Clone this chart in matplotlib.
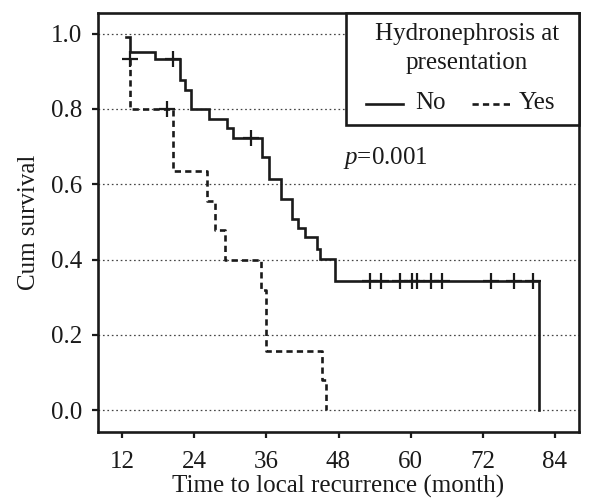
import matplotlib
matplotlib.use("Agg")
import matplotlib.pyplot as plt
from matplotlib.patches import Rectangle

plt.rcParams['font.family'] = ['Liberation Serif', 'DejaVu Serif']
plt.rcParams['lines.scale_dashes'] = False
plt.rcParams['mathtext.fontset'] = 'custom'
plt.rcParams['mathtext.rm'] = 'Liberation Serif'
plt.rcParams['mathtext.it'] = 'Liberation Serif:italic'

# "No" hydronephrosis group: step times (months) and survival after each step
no_times = [12.6, 13.4, 17.4, 21.6, 22.5, 23.4, 26.4, 29.4, 30.4, 35.3, 36.4,
            38.4, 40.2, 41.3, 42.5, 44.4, 45.0, 47.4, 81.4]
no_surv = [0.99, 0.952, 0.932, 0.877, 0.850, 0.800, 0.774, 0.749, 0.723, 0.672,
           0.614, 0.561, 0.508, 0.485, 0.459, 0.428, 0.401, 0.344, 0.0]
no_cens_t = [20.5, 33.4, 53.3, 55.1, 58.2, 60.2, 61.1, 63.4, 65.2, 73.3, 77.2, 80.3]
no_cens_s = [0.932, 0.723, 0.344, 0.344, 0.344, 0.344, 0.344, 0.344, 0.344,
             0.344, 0.344, 0.344]

# "Yes" hydronephrosis group
yes_times = [13.4, 13.4, 20.4, 26.2, 27.4, 29.2, 35.1, 36.0, 45.2, 46.0]
yes_surv = [0.934, 0.800, 0.635, 0.556, 0.479, 0.399, 0.319, 0.158, 0.080, 0.0]
yes_cens_t = [13.4, 19.4]
yes_cens_s = [0.934, 0.800]

x_ticks = [12, 24, 36, 48, 60, 72, 84]
y_ticks = [0.0, 0.2, 0.4, 0.6, 0.8, 1.0]

FS = 18
INK = '#1a1a1a'

fig = plt.figure(figsize=(5.9, 4.99), dpi=100)
ax = fig.add_axes([98/590, 67/499, (579-98)/590, (432-13)/499])

for y in y_ticks:
    ax.axhline(y, color='#444444', lw=0.9, ls=(0, (1.2, 2.0)), zorder=1)

def steps(times, surv):
    xs = [times[0]]
    ys = [surv[0]]
    for t, s in zip(times[1:], surv[1:]):
        xs += [t, t]
        ys += [ys[-1], s]
    return xs, ys

xs, ys = steps(no_times, no_surv)
ax.plot(xs, ys, color=INK, lw=1.9, solid_joinstyle='miter', zorder=3)
xs, ys = steps(yes_times, yes_surv)
ax.plot(xs, ys, color=INK, lw=1.9, dashes=(4.5, 3.0), zorder=3)

ax.plot(no_cens_t, no_cens_s, ls='none', marker='+', ms=11, mew=1.6,
        color=INK, zorder=4)
ax.plot(yes_cens_t, yes_cens_s, ls='none', marker='+', ms=11, mew=1.6,
        color=INK, zorder=4)

ax.set_xlim(8, 88)
ax.set_ylim(-0.058, 1.055)
ax.set_xticks(x_ticks)
ax.set_xticklabels([str(v) for v in x_ticks])
ax.set_yticks(y_ticks)
ax.set_yticklabels([f"{v:.1f}" for v in y_ticks])
ax.tick_params(axis='both', direction='out', length=4.5, width=1.6,
               labelsize=FS, color=INK, labelcolor=INK)
ax.tick_params(axis='x', pad=9)
ax.tick_params(axis='y', pad=7)
for sp in ax.spines.values():
    sp.set_linewidth(1.9)
    sp.set_color(INK)

ax.set_xlabel('Time to local recurrence (month)', fontsize=FS, color=INK,
              labelpad=1.5)
ax.set_ylabel('Cum survival', fontsize=FS, color=INK, labelpad=8)

ax.text(55.8, 0.67, r'$\mathit{p}$=0.001', fontsize=FS, ha='center',
        va='center', color=INK)

# legend box (axes fraction coordinates)
T = ax.transAxes
def fx(px):
    return (px - 98) / (579 - 98)
def fy(py):
    return (432 - py) / (432 - 13)
ax.add_patch(Rectangle((fx(346), fy(125)), fx(579) - fx(346), fy(13) - fy(125),
                       transform=T, facecolor='white', edgecolor=INK,
                       lw=1.9, zorder=5, clip_on=False))
ax.text(fx(467), fy(34), 'Hydronephrosis at', transform=T, fontsize=FS,
        ha='center', va='center', zorder=6, color=INK)
ax.text(fx(467), fy(63), 'presentation', transform=T, fontsize=FS,
        ha='center', va='center', zorder=6, color=INK)
ax.plot([fx(366), fx(403)], [fy(104), fy(104)], transform=T, color=INK,
        lw=1.9, zorder=6, clip_on=False)
ax.text(fx(415), fy(103), 'No', transform=T, fontsize=FS, ha='left',
        va='center', zorder=6, color=INK)
ax.plot([fx(472), fx(511)], [fy(104), fy(104)], transform=T, color=INK,
        lw=1.9, dashes=(4.5, 3.0), zorder=6, clip_on=False)
ax.text(fx(519), fy(103), 'Yes', transform=T, fontsize=FS, ha='left',
        va='center', zorder=6, color=INK)

fig.savefig('out.png', dpi=100)
